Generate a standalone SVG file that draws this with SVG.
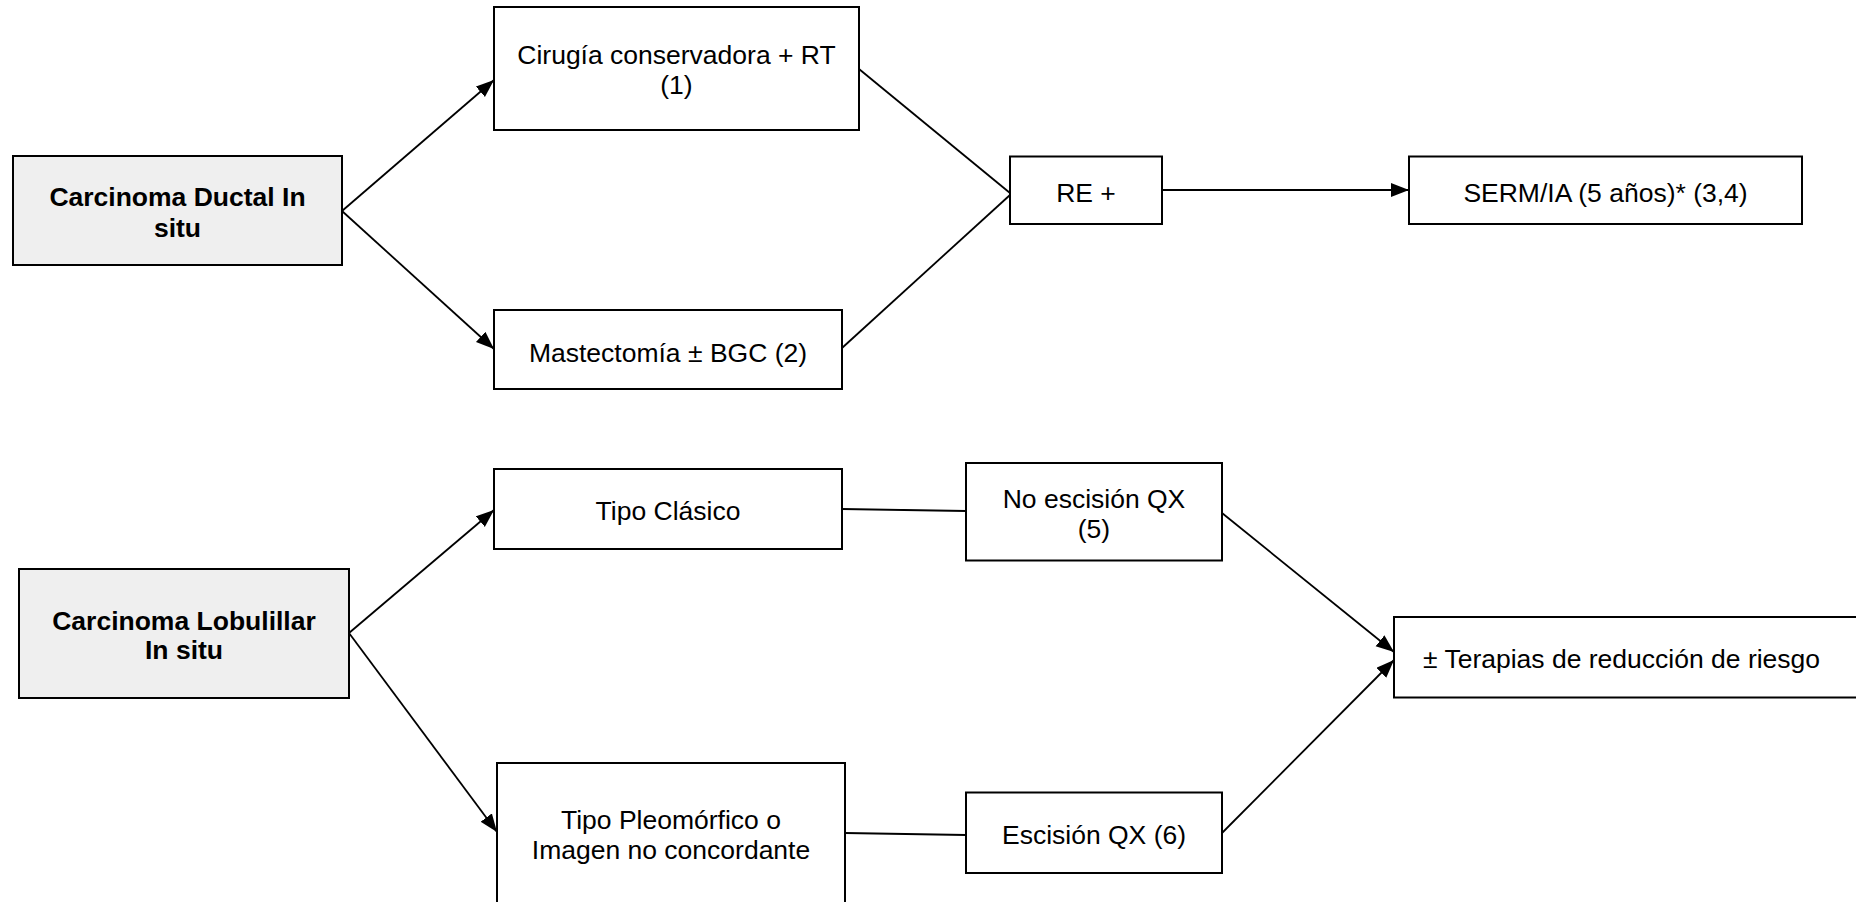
<svg xmlns="http://www.w3.org/2000/svg" width="1856" height="902" viewBox="0 0 1856 902">
<style>
.box{fill:#ffffff;stroke:#000000;stroke-width:2}
.main{fill:#efefef;stroke:#000000;stroke-width:2}
.t{font-family:"Liberation Sans",Arial,sans-serif;font-size:26.5px;fill:#000000;text-anchor:middle}
.b{font-weight:bold}
.c{fill:none;stroke:#000000;stroke-width:1.8}
</style>
<defs>
<marker id="ah" markerUnits="userSpaceOnUse" markerWidth="20" markerHeight="16" refX="18" refY="7" orient="auto">
<path d="M0,0 L18,7 L0,14 z" fill="#000000"/>
</marker>
</defs>
<rect width="1856" height="902" fill="#ffffff"/>
<g id="connectors">
<line class="c" x1="342" y1="211" x2="494" y2="80" marker-end="url(#ah)"/>
<line class="c" x1="342" y1="211" x2="494" y2="349" marker-end="url(#ah)"/>
<line class="c" x1="859" y1="69" x2="1010" y2="193"/>
<line class="c" x1="842" y1="348" x2="1010" y2="195"/>
<line class="c" x1="1162" y1="190" x2="1409" y2="190" marker-end="url(#ah)"/>
<line class="c" x1="349" y1="633" x2="494" y2="510" marker-end="url(#ah)"/>
<line class="c" x1="349" y1="633" x2="497" y2="832" marker-end="url(#ah)"/>
<line class="c" x1="842" y1="509" x2="966" y2="511"/>
<line class="c" x1="845" y1="833" x2="966" y2="835"/>
<line class="c" x1="1222" y1="513" x2="1394" y2="652" marker-end="url(#ah)"/>
<line class="c" x1="1222" y1="833" x2="1394" y2="660" marker-end="url(#ah)"/>
</g>
<g id="ductal">
<rect class="main" x="13" y="156" width="329" height="109"/>
<text class="t b" x="177.5" y="206">Carcinoma Ductal In</text>
<text class="t b" x="177.5" y="236.5">situ</text>
</g>
<g id="cirugia">
<rect class="box" x="494" y="7" width="365" height="123"/>
<text class="t" x="676.5" y="64">Cirugía conservadora + RT</text>
<text class="t" x="676.5" y="94">(1)</text>
</g>
<g id="mastectomia">
<rect class="box" x="494" y="310" width="348" height="79"/>
<text class="t" x="668" y="361.5">Mastectomía ± BGC (2)</text>
</g>
<g id="re">
<rect class="box" x="1010" y="156.5" width="152" height="67.5"/>
<text class="t" x="1086" y="201.5">RE +</text>
</g>
<g id="serm">
<rect class="box" x="1409" y="156.5" width="393" height="67.5"/>
<text class="t" x="1605.5" y="201.5">SERM/IA (5 años)* (3,4)</text>
</g>
<g id="lobulillar">
<rect class="main" x="19" y="569" width="330" height="129"/>
<text class="t b" x="184" y="629.5">Carcinoma Lobulillar</text>
<text class="t b" x="184" y="658.5">In situ</text>
</g>
<g id="clasico">
<rect class="box" x="494" y="469" width="348" height="80"/>
<text class="t" x="668" y="520">Tipo Clásico</text>
</g>
<g id="noescision">
<rect class="box" x="966" y="463" width="256" height="97.5"/>
<text class="t" x="1094" y="507.5">No escisión QX</text>
<text class="t" x="1094" y="538">(5)</text>
</g>
<g id="pleomorfico">
<rect class="box" x="497" y="763" width="348" height="150"/>
<text class="t" x="671" y="829">Tipo Pleomórfico o</text>
<text class="t" x="671" y="859">Imagen no concordante</text>
</g>
<g id="escision">
<rect class="box" x="966" y="792.5" width="256" height="80.5"/>
<text class="t" x="1094" y="844">Escisión QX (6)</text>
</g>
<g id="terapias">
<rect class="box" x="1394" y="617" width="480" height="80.5"/>
<text class="t" x="1423" y="668" text-anchor="start" style="text-anchor:start">± Terapias de reducción de riesgo</text>
</g>
</svg>
